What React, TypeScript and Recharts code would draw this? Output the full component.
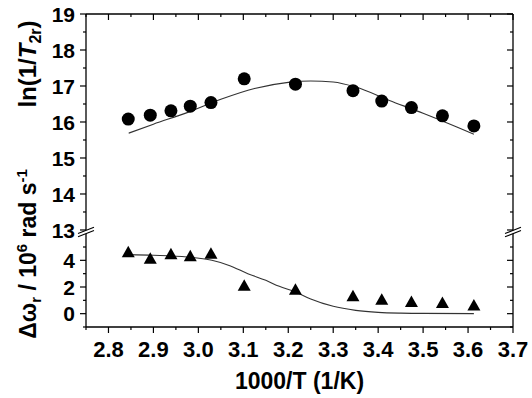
import { ComposedChart, Line, Scatter, XAxis, YAxis, ReferenceDot } from 'recharts';

const WIDTH = 532;
const HEIGHT = 398;
const FONT = '"Liberation Sans", Arial, sans-serif';
const INK = '#000';

// measured points, 1000/T in 1/K
const invTemp = [2.844, 2.893, 2.939, 2.982, 3.028, 3.102, 3.216, 3.344, 3.408, 3.474, 3.543, 3.613];
const lnRate = [16.08, 16.19, 16.31, 16.44, 16.54, 17.2, 17.05, 16.87, 16.58, 16.4, 16.17, 15.89];
const shift = [4.6, 4.12, 4.45, 4.3, 4.5, 2.1, 1.8, 1.3, 1.05, 0.88, 0.8, 0.62];

// fitted curves
const fitRateX = [2.845, 2.9, 2.975, 3.05, 3.125, 3.2, 3.25, 3.3, 3.35, 3.425, 3.5, 3.575, 3.613];
const fitRateY = [15.69, 15.94, 16.26, 16.63, 16.93, 17.1, 17.14, 17.11, 16.97, 16.6, 16.24, 15.86, 15.66];
const fitShiftX = [2.845, 2.9, 2.975, 3.03, 3.07, 3.11, 3.15, 3.18, 3.215, 3.25, 3.3, 3.35, 3.4, 3.45, 3.5, 3.613];
const fitShiftY = [4.43, 4.38, 4.25, 4.0, 3.6, 3.0, 2.5, 2.05, 1.65, 1.1, 0.55, 0.25, 0.1, 0.04, 0.02, 0.0];

const xMajor = [2.8, 2.9, 3.0, 3.1, 3.2, 3.3, 3.4, 3.5, 3.6, 3.7];
const xMinor = [2.75, 2.85, 2.95, 3.05, 3.15, 3.25, 3.35, 3.45, 3.55, 3.65];
const rateMajor = [13, 14, 15, 16, 17, 18, 19];
const rateMinor = [13.5, 14.5, 15.5, 16.5, 17.5, 18.5];
const shiftMajor = [0, 2, 4];
const shiftMinor = [-1, 1, 3, 5];

const X_DOMAIN = [2.75, 3.7];
const RATE_DOMAIN = [12.944, 19];
const SHIFT_DOMAIN = [-1, 6.125];

const rateData = invTemp.map((x, i) => ({ x, y: lnRate[i] }));
const shiftData = invTemp.map((x, i) => ({ x, y: shift[i] }));
const rateFit = fitRateX.map((x, i) => ({ x, y: fitRateY[i] }));
const shiftFit = fitShiftX.map((x, i) => ({ x, y: fitShiftY[i] }));

const textStyle = { fontFamily: FONT, fontWeight: 700, fill: INK };

function XTick({ x, y, payload, showLabel }: any) {
	const major = xMajor.includes(payload.value);
	return (
		<g>
			<line x1={x} y1={y} x2={x} y2={y + (major ? 6 : 3)} stroke={INK} strokeWidth={1.2} />
			{showLabel && major && (
				<text x={x} y={y + 30} textAnchor="middle" fontSize={22} style={textStyle}>
					{payload.value.toFixed(1)}
				</text>
			)}
		</g>
	);
}

function YTick({ x, y, payload, majors, showLabel }: any) {
	const major = majors.includes(payload.value);
	return (
		<g>
			<line x1={x} y1={y} x2={x - (major ? 6 : 3)} y2={y} stroke={INK} strokeWidth={1.2} />
			{showLabel && major && (
				<text x={x - 11} y={y} dy="0.36em" textAnchor="end" fontSize={21} style={textStyle}>
					{payload.value}
				</text>
			)}
		</g>
	);
}

function BreakMark({ cx, cy }: any) {
	const top = (dx: number) => cy - 0.4 * dx - 1.6;
	const bot = (dx: number) => cy - 0.4 * dx + 1.6;
	return (
		<g>
			<polygon
				points={`${cx - 8},${top(-8)} ${cx + 8},${top(8)} ${cx + 8},${bot(8)} ${cx - 8},${bot(-8)}`}
				fill="#fff"
			/>
			<line x1={cx - 8} y1={top(-8)} x2={cx + 8} y2={top(8)} stroke={INK} strokeWidth={1.1} />
			<line x1={cx - 8} y1={bot(-8)} x2={cx + 8} y2={bot(8)} stroke={INK} strokeWidth={1.1} />
		</g>
	);
}

const Dot = ({ cx, cy }: any) => <circle cx={cx} cy={cy} r={6.5} fill={INK} />;
const Tri = ({ cx, cy }: any) => (
	<polygon points={`${cx},${cy - 6.5} ${cx + 6.5},${cy + 5} ${cx - 6.5},${cy + 5}`} fill={INK} />
);

function RateTitle({ viewBox }: any) {
	const x = 36;
	const y = viewBox.y + 50;
	return (
		<text x={x} y={y} transform={`rotate(-90, ${x}, ${y})`} textAnchor="middle" fontSize={24} style={textStyle}>
			ln(1/<tspan fontStyle="italic">T</tspan>
			<tspan fontSize={16} dy={5}>2r</tspan>
			<tspan dy={-5}>)</tspan>
		</text>
	);
}

function ShiftTitle({ viewBox }: any) {
	const x = 36;
	const y = viewBox.y + 22;
	return (
		<text x={x} y={y} transform={`rotate(-90, ${x}, ${y})`} textAnchor="middle" fontSize={23} style={textStyle}>
			Δω<tspan fontSize={15} dy={5}>r</tspan>
			<tspan dy={-5}> / 10</tspan>
			<tspan fontSize={15} dy={-9}>6</tspan>
			<tspan dy={9}> rad s</tspan>
			<tspan fontSize={15} dy={-9}>-1</tspan>
		</text>
	);
}

function XTitle({ viewBox }: any) {
	return (
		<text x={viewBox.x + viewBox.width / 2} y={viewBox.y + 62} textAnchor="middle" fontSize={23} style={textStyle}>
			1000/T (1/K)
		</text>
	);
}

const axisLine = { stroke: INK, strokeWidth: 1.3 };

export default function App() {
	return (
		<div style={{ position: 'absolute', left: 0, top: 0, width: WIDTH, height: HEIGHT, background: '#fff' }}>
			<div style={{ position: 'absolute', left: 0, top: 0 }}>
				<ComposedChart width={WIDTH} height={HEIGHT} margin={{ top: 13, right: 18, bottom: 166, left: 0 }}>
					<XAxis
						xAxisId="x"
						dataKey="x"
						type="number"
						orientation="top"
						height={1}
						domain={X_DOMAIN}
						ticks={[...xMinor, ...xMajor]}
						interval={0}
						allowDataOverflow
						tickSize={0}
						tickMargin={0}
						axisLine={axisLine}
						tickLine={false}
						tick={(p: any) => <XTick {...p} showLabel={false} />}
					/>
					<YAxis
						yAxisId="l"
						dataKey="y"
						type="number"
						width={86}
						domain={RATE_DOMAIN}
						ticks={[...rateMinor, ...rateMajor]}
						interval={0}
						allowDataOverflow
						tickSize={0}
						tickMargin={0}
						axisLine={axisLine}
						tickLine={false}
						tick={(p: any) => <YTick {...p} majors={rateMajor} showLabel />}
						label={{ content: (p: any) => <RateTitle viewBox={p.viewBox} /> }}
					/>
					<YAxis
						yAxisId="r"
						type="number"
						orientation="right"
						width={1}
						domain={RATE_DOMAIN}
						ticks={[...rateMinor, ...rateMajor]}
						interval={0}
						allowDataOverflow
						tickSize={0}
						tickMargin={0}
						axisLine={axisLine}
						tickLine={false}
						tick={(p: any) => <YTick {...p} majors={rateMajor} showLabel={false} />}
					/>
					<Line
						xAxisId="x"
						yAxisId="l"
						data={rateFit}
						dataKey="y"
						type="monotone"
						stroke="#333"
						strokeWidth={1.1}
						dot={false}
						isAnimationActive={false}
					/>
					<Scatter xAxisId="x" yAxisId="l" data={rateData} dataKey="y" shape={Dot} isAnimationActive={false} />
				</ComposedChart>
			</div>
			<div style={{ position: 'absolute', left: 0, top: 0 }}>
				<ComposedChart width={WIDTH} height={HEIGHT} margin={{ top: 232, right: 18, bottom: 0, left: 0 }}>
					<XAxis
						xAxisId="x"
						dataKey="x"
						type="number"
						height={71}
						domain={X_DOMAIN}
						ticks={[...xMinor, ...xMajor]}
						interval={0}
						allowDataOverflow
						tickSize={0}
						tickMargin={0}
						axisLine={axisLine}
						tickLine={false}
						tick={(p: any) => <XTick {...p} showLabel />}
						label={{ content: (p: any) => <XTitle viewBox={p.viewBox} /> }}
					/>
					<YAxis
						yAxisId="l"
						dataKey="y"
						type="number"
						width={86}
						domain={SHIFT_DOMAIN}
						ticks={[...shiftMinor, ...shiftMajor]}
						interval={0}
						allowDataOverflow
						tickSize={0}
						tickMargin={0}
						axisLine={axisLine}
						tickLine={false}
						tick={(p: any) => <YTick {...p} majors={shiftMajor} showLabel />}
						label={{ content: (p: any) => <ShiftTitle viewBox={p.viewBox} /> }}
					/>
					<YAxis
						yAxisId="r"
						type="number"
						orientation="right"
						width={1}
						domain={SHIFT_DOMAIN}
						ticks={[...shiftMinor, ...shiftMajor]}
						interval={0}
						allowDataOverflow
						tickSize={0}
						tickMargin={0}
						axisLine={axisLine}
						tickLine={false}
						tick={(p: any) => <YTick {...p} majors={shiftMajor} showLabel={false} />}
					/>
					<Line
						xAxisId="x"
						yAxisId="l"
						data={shiftFit}
						dataKey="y"
						type="monotone"
						stroke="#333"
						strokeWidth={1.1}
						dot={false}
						isAnimationActive={false}
					/>
					<Scatter xAxisId="x" yAxisId="l" data={shiftData} dataKey="y" shape={Tri} isAnimationActive={false} />
					<ReferenceDot
						xAxisId="x"
						yAxisId="l"
						x={X_DOMAIN[0]}
						y={SHIFT_DOMAIN[1]}
						ifOverflow="visible"
						shape={BreakMark}
					/>
					<ReferenceDot
						xAxisId="x"
						yAxisId="r"
						x={X_DOMAIN[1]}
						y={SHIFT_DOMAIN[1]}
						ifOverflow="visible"
						shape={BreakMark}
					/>
				</ComposedChart>
			</div>
		</div>
	);
}
